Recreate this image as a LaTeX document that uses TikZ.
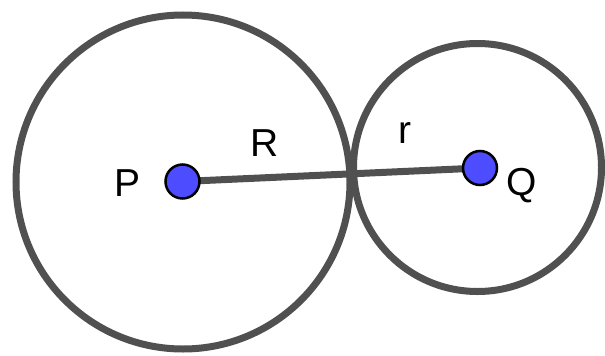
\documentclass[tikz,border=0pt]{standalone}
\usepackage{fontspec}
\setmainfont{Liberation Sans}
\definecolor{ringgray}{HTML}{505050}
\definecolor{dotblue}{HTML}{4D4DFF}
\begin{document}
\begin{tikzpicture}[x=1pt,y=-1pt,
  ring/.style={draw=ringgray,line width=7pt},
  seg/.style={draw=ringgray,line width=7pt},
  ptdot/.style={circle,fill=dotblue,draw=black,line width=2.5pt,minimum size=34pt,inner sep=0pt},
  lbl/.style={font=\fontsize{39}{41}\selectfont,inner sep=0pt}]
\useasboundingbox (0,0) rectangle (605,356);
\coordinate (pc) at (182.5,181.5);
\coordinate (qc) at (480,168);
\draw[ring] (183,182) circle[radius=167];
\draw[ring] (477.5,167.5) circle[radius=124];
\draw[seg] (pc) -- (qc);
\node[ptdot] (P) at (pc) {};
\node[ptdot] (Q) at (qc) {};
\node[lbl] (lP) at (128,183) {P};
\node[lbl] (lR) at (265,143) {R};
\node[lbl] (lr) at (405,133) {r};
\node[lbl] (lQ) at (522,186) {Q};
\end{tikzpicture}
\end{document}
